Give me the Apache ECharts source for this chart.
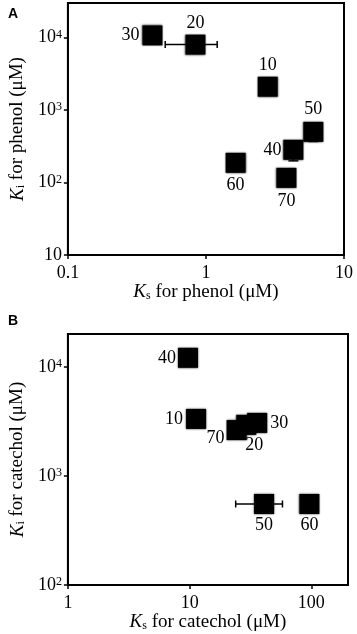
<!DOCTYPE html>
<html>
<head>
<meta charset="utf-8">
<script src="https://cdn.jsdelivr.net/npm/echarts@6/dist/echarts.min.js"></script>
<style>
html, body { margin: 0; padding: 0; background: #fff; }
#chart { width: 357px; height: 634px; }
</style>
</head>
<body>
<div id="chart"></div>
<script>
// panel A - phenol
var phenolNames = ['10', '20', '30', '40', '50', '60', '70'];
var phenolKs = [2.8, 0.84, 0.41, 4.3, 6.0, 1.64, 3.83];
var phenolKi = [2100, 8000, 10700, 283, 500, 187, 116];
var phenolKsErr = [null, [0.507, 1.206], null, null, null, null, null];
var phenolKiErr = [null, null, null, [199, 283], [368, 500], null, null];
var phenolXTicks = [0.1, 1, 10];
var phenolXTickText = ['0.1', '1', '10'];
var phenolYTicks = [10, 100, 1000, 10000];
var phenolYTickText = ['10', '10^2', '10^3', '10^4'];

// panel B - catechol
var catecholNames = ['10', '20', '30', '40', '50', '60', '70'];
var catecholKs = [11.3, 29.2, 35.9, 9.7, 40.9, 96.4, 24.3];
var catecholKi = [3330, 2940, 3060, 12100, 553, 553, 2630];
var catecholKsErr = [null, null, null, null, [23.9, 57.9], null, null];
var catecholXTicks = [1, 10, 100];
var catecholXTickText = ['1', '10', '100'];
var catecholYTicks = [100, 1000, 10000];
var catecholYTickText = ['10^2', '10^3', '10^4'];

// label placement (layout only)
var phenolLabelPos = {
    '10': { position: 'top', distance: 2 },
    '20': { position: 'top', distance: 2 },
    '30': { position: 'left', distance: 3 },
    '40': { position: 'left', distance: 2 },
    '50': { position: 'top', distance: 4 },
    '60': { position: 'bottom', distance: 3 },
    '70': { position: 'bottom', distance: 4 }
};
var catecholLabelPos = {
    '10': { position: 'left', distance: 3 },
    '20': { position: 'bottom', distance: 1, offset: [8, 0] },
    '30': { position: 'right', distance: 3 },
    '40': { position: 'left', distance: 2 },
    '50': { position: 'bottom', distance: 2 },
    '60': { position: 'bottom', distance: 2 },
    '70': { position: 'left', distance: 2, offset: [0, 8] }
};

var SERIF = 'Liberation Serif';

function tickFormatter(ticks, texts) {
    return function (v) {
        for (var i = 0; i < ticks.length; i++) {
            if (Math.abs(v - ticks[i]) / ticks[i] < 1e-6) {
                return texts[i].replace(/\^(\d+)/, '{sup|$1}');
            }
        }
        return '';
    };
}

var tickRich = {
    sup: { fontFamily: SERIF, fontSize: 12, color: '#000', verticalAlign: 'top', padding: [0, 0, 6, 0] }
};

function nameRich() {
    return {
        k: { fontFamily: SERIF, fontSize: 19, fontStyle: 'italic', color: '#000' },
        sub: { fontFamily: SERIF, fontSize: 12, color: '#000', verticalAlign: 'bottom', padding: [6, 0, 0, 0] }
    };
}

function xAxisCfg(grid, min, max, ticks, texts, name) {
    return {
        type: 'log', logBase: 10, gridIndex: grid, min: min, max: max,
        name: name, nameLocation: 'middle', nameGap: 17,
        nameTextStyle: { fontFamily: SERIF, fontSize: 19, color: '#000', rich: nameRich() },
        axisLine: { show: true, lineStyle: { color: '#000', width: 2 } },
        axisTick: { show: true, inside: false, length: 4, customValues: ticks, lineStyle: { color: '#000', width: 1.5 } },
        axisLabel: { show: true, margin: 9, customValues: ticks, fontFamily: SERIF, fontSize: 18, color: '#000',
            formatter: tickFormatter(ticks, texts), rich: tickRich },
        splitLine: { show: false },
        minorTick: { show: false }
    };
}

function yAxisCfg(grid, min, max, ticks, texts, name) {
    return {
        type: 'log', logBase: 10, gridIndex: grid, min: min, max: max,
        name: name, nameLocation: 'middle', nameGap: 28, nameRotate: 90,
        nameTextStyle: { fontFamily: SERIF, fontSize: 19, color: '#000', rich: nameRich() },
        axisLine: { show: true, lineStyle: { color: '#000', width: 2 } },
        axisTick: { show: true, inside: false, length: 4, customValues: ticks, lineStyle: { color: '#000', width: 1.5 } },
        axisLabel: { show: true, margin: 6, customValues: ticks, fontFamily: SERIF, fontSize: 18, color: '#000',
            formatter: tickFormatter(ticks, texts), rich: tickRich },
        splitLine: { show: false },
        minorTick: { show: false }
    };
}

function pointSeries(idx, names, xs, ys, pos) {
    var data = [];
    for (var i = 0; i < names.length; i++) {
        var p = pos[names[i]];
        data.push({
            name: names[i],
            value: [xs[i], ys[i]],
            label: { position: p.position, distance: p.distance, offset: p.offset || [0, 0] }
        });
    }
    return {
        type: 'scatter', xAxisIndex: idx, yAxisIndex: idx, z: 3,
        symbol: 'rect', symbolSize: 20,
        itemStyle: { color: '#000', opacity: 1, shadowBlur: 2, shadowColor: 'rgba(0,0,0,0.8)' },
        label: { show: true, formatter: '{b}', fontFamily: SERIF, fontSize: 18, color: '#000',
            textBorderWidth: 0, textShadowBlur: 0 },
        emphasis: { disabled: true },
        data: data
    };
}

// horizontal bars: [lo, hi, y]
function hErrSeries(idx, xs, ys, err) {
    var data = [];
    for (var i = 0; i < xs.length; i++) {
        if (err[i]) data.push([err[i][0], err[i][1], ys[i]]);
    }
    return {
        type: 'custom', xAxisIndex: idx, yAxisIndex: idx, z: 2,
        encode: { x: [0, 1], y: 2 },
        renderItem: function (params, api) {
            var a = api.coord([api.value(0), api.value(2)]);
            var b = api.coord([api.value(1), api.value(2)]);
            var st = { stroke: '#000', lineWidth: 1.5 };
            var c = 3.5;
            return {
                type: 'group',
                children: [
                    { type: 'line', shape: { x1: a[0], y1: a[1], x2: b[0], y2: b[1] }, style: st },
                    { type: 'line', shape: { x1: a[0], y1: a[1] - c, x2: a[0], y2: a[1] + c }, style: st },
                    { type: 'line', shape: { x1: b[0], y1: b[1] - c, x2: b[0], y2: b[1] + c }, style: st }
                ]
            };
        },
        data: data
    };
}

// vertical bars: [x, lo, hi]
function vErrSeries(idx, xs, err) {
    var data = [];
    for (var i = 0; i < xs.length; i++) {
        if (err[i]) data.push([xs[i], err[i][0], err[i][1]]);
    }
    return {
        type: 'custom', xAxisIndex: idx, yAxisIndex: idx, z: 2,
        encode: { x: 0, y: [1, 2] },
        renderItem: function (params, api) {
            var a = api.coord([api.value(0), api.value(1)]);
            var b = api.coord([api.value(0), api.value(2)]);
            var st = { stroke: '#000', lineWidth: 1.5 };
            var c = 5;
            return {
                type: 'group',
                children: [
                    { type: 'line', shape: { x1: a[0], y1: a[1], x2: b[0], y2: b[1] }, style: st },
                    { type: 'line', shape: { x1: a[0] - c, y1: a[1], x2: a[0] + c, y2: a[1] }, style: st }
                ]
            };
        },
        data: data
    };
}

var chart = echarts.init(document.getElementById('chart'), null, { renderer: 'canvas' });
chart.setOption({
    animation: false,
    backgroundColor: '#fff',
    grid: [
        { left: 61, top: 3, width: 283, height: 252, show: true, borderColor: '#000', borderWidth: 2, backgroundColor: 'transparent' },
        { left: 63, top: 334, width: 285, height: 251, show: true, borderColor: '#000', borderWidth: 2, backgroundColor: 'transparent' }
    ],
    xAxis: [
        xAxisCfg(0, 0.1, 10, phenolXTicks, phenolXTickText, '{k|K}{sub|s} for phenol (μM)'),
        xAxisCfg(1, 1, 200, catecholXTicks, catecholXTickText, '{k|K}{sub|s} for catechol (μM)')
    ],
    yAxis: [
        yAxisCfg(0, 10, 30000, phenolYTicks, phenolYTickText, '{k|K}{sub|i} for phenol (μM)'),
        yAxisCfg(1, 100, 20000, catecholYTicks, catecholYTickText, '{k|K}{sub|i} for catechol (μM)')
    ],
    graphic: [
        { type: 'text', left: 8, top: 7, style: { text: 'A', font: 'bold 14px "Liberation Sans"', fill: '#000' } },
        { type: 'text', left: 8, top: 314, style: { text: 'B', font: 'bold 14px "Liberation Sans"', fill: '#000' } }
    ],
    series: [
        hErrSeries(0, phenolKs, phenolKi, phenolKsErr),
        vErrSeries(0, phenolKs, phenolKiErr),
        pointSeries(0, phenolNames, phenolKs, phenolKi, phenolLabelPos),
        hErrSeries(1, catecholKs, catecholKi, catecholKsErr),
        pointSeries(1, catecholNames, catecholKs, catecholKi, catecholLabelPos)
    ]
});
</script>
</body>
</html>
